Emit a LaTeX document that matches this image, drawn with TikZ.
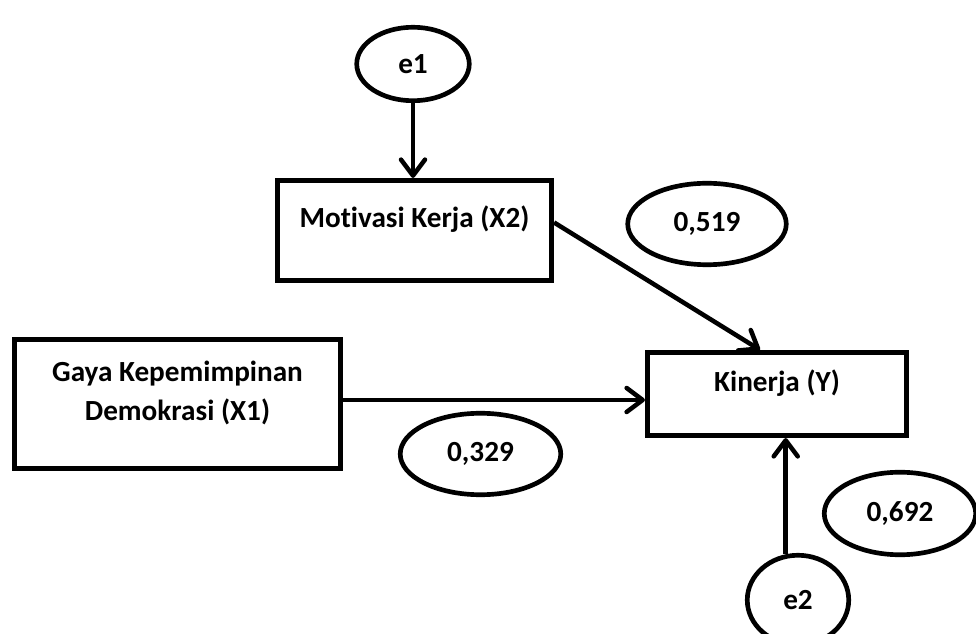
\documentclass[tikz,border=0pt]{standalone}
\usepackage{fontspec}
\setmainfont{Carlito}[Ligatures=NoCommon]
\usetikzlibrary{arrows.meta,shapes.geometric}

\begin{document}
\begin{tikzpicture}[
		x=0.75pt, y=-0.75pt,
		line width=3.4pt,
		font=\fontsize{21.9pt}{29pt}\selectfont\bfseries,
		var/.style={rectangle, draw=black, line width=3.9pt, text depth=20pt, align=center},
		oval/.style={ellipse, draw=black, line width=3.5pt, inner sep=0pt}
	]
		\useasboundingbox (0,0) rectangle (976,634);

		\node[var, minimum width=244.5pt, minimum height=96.75pt](x1) at (177.5,404){Gaya Kepemimpinan\\Demokrasi (X1)};
		\node[var, minimum width=205.5pt, minimum height=75pt](x2) at (414.5,230.5){Motivasi Kerja (X2)};
		\node[var, minimum width=194.25pt, minimum height=62.25pt](y) at (777,394){Kinerja (Y)};

		\node[oval, minimum width=84.4pt, minimum height=55.1pt](e1) at (413,64){e1};
		\node[oval, minimum width=76.1pt, minimum height=67.1pt](e2) at (798,600){e2};
		\node[oval, minimum width=118.9pt, minimum height=61.1pt](p-x2) at (707,224){0,519};
		\node[oval, minimum width=120.4pt, minimum height=61.1pt](p-x1) at (480.5,454){0,329};
		\node[oval, minimum width=113.6pt, minimum height=61.9pt](p-e2) at (900,513.5){0,692};

		\draw[-{Straight Barb[length=12pt,width=18pt,round]}](e1.south) -- (e1.south |- x2.north);
		\draw[-{Straight Barb[length=12pt,width=18pt,round]}]([yshift=6pt]x2.east) -- ([xshift=-12.75pt]y.north);
		\draw[-{Straight Barb[length=12pt,width=18pt,round]}]([yshift=3pt]x1.east) -- ([yshift=3pt]x1.east -| y.west);
		\draw[-{Straight Barb[length=12pt,width=18pt,round]}](e2.105) -- (e2.105 |- y.south);
	\end{tikzpicture}
\end{document}
